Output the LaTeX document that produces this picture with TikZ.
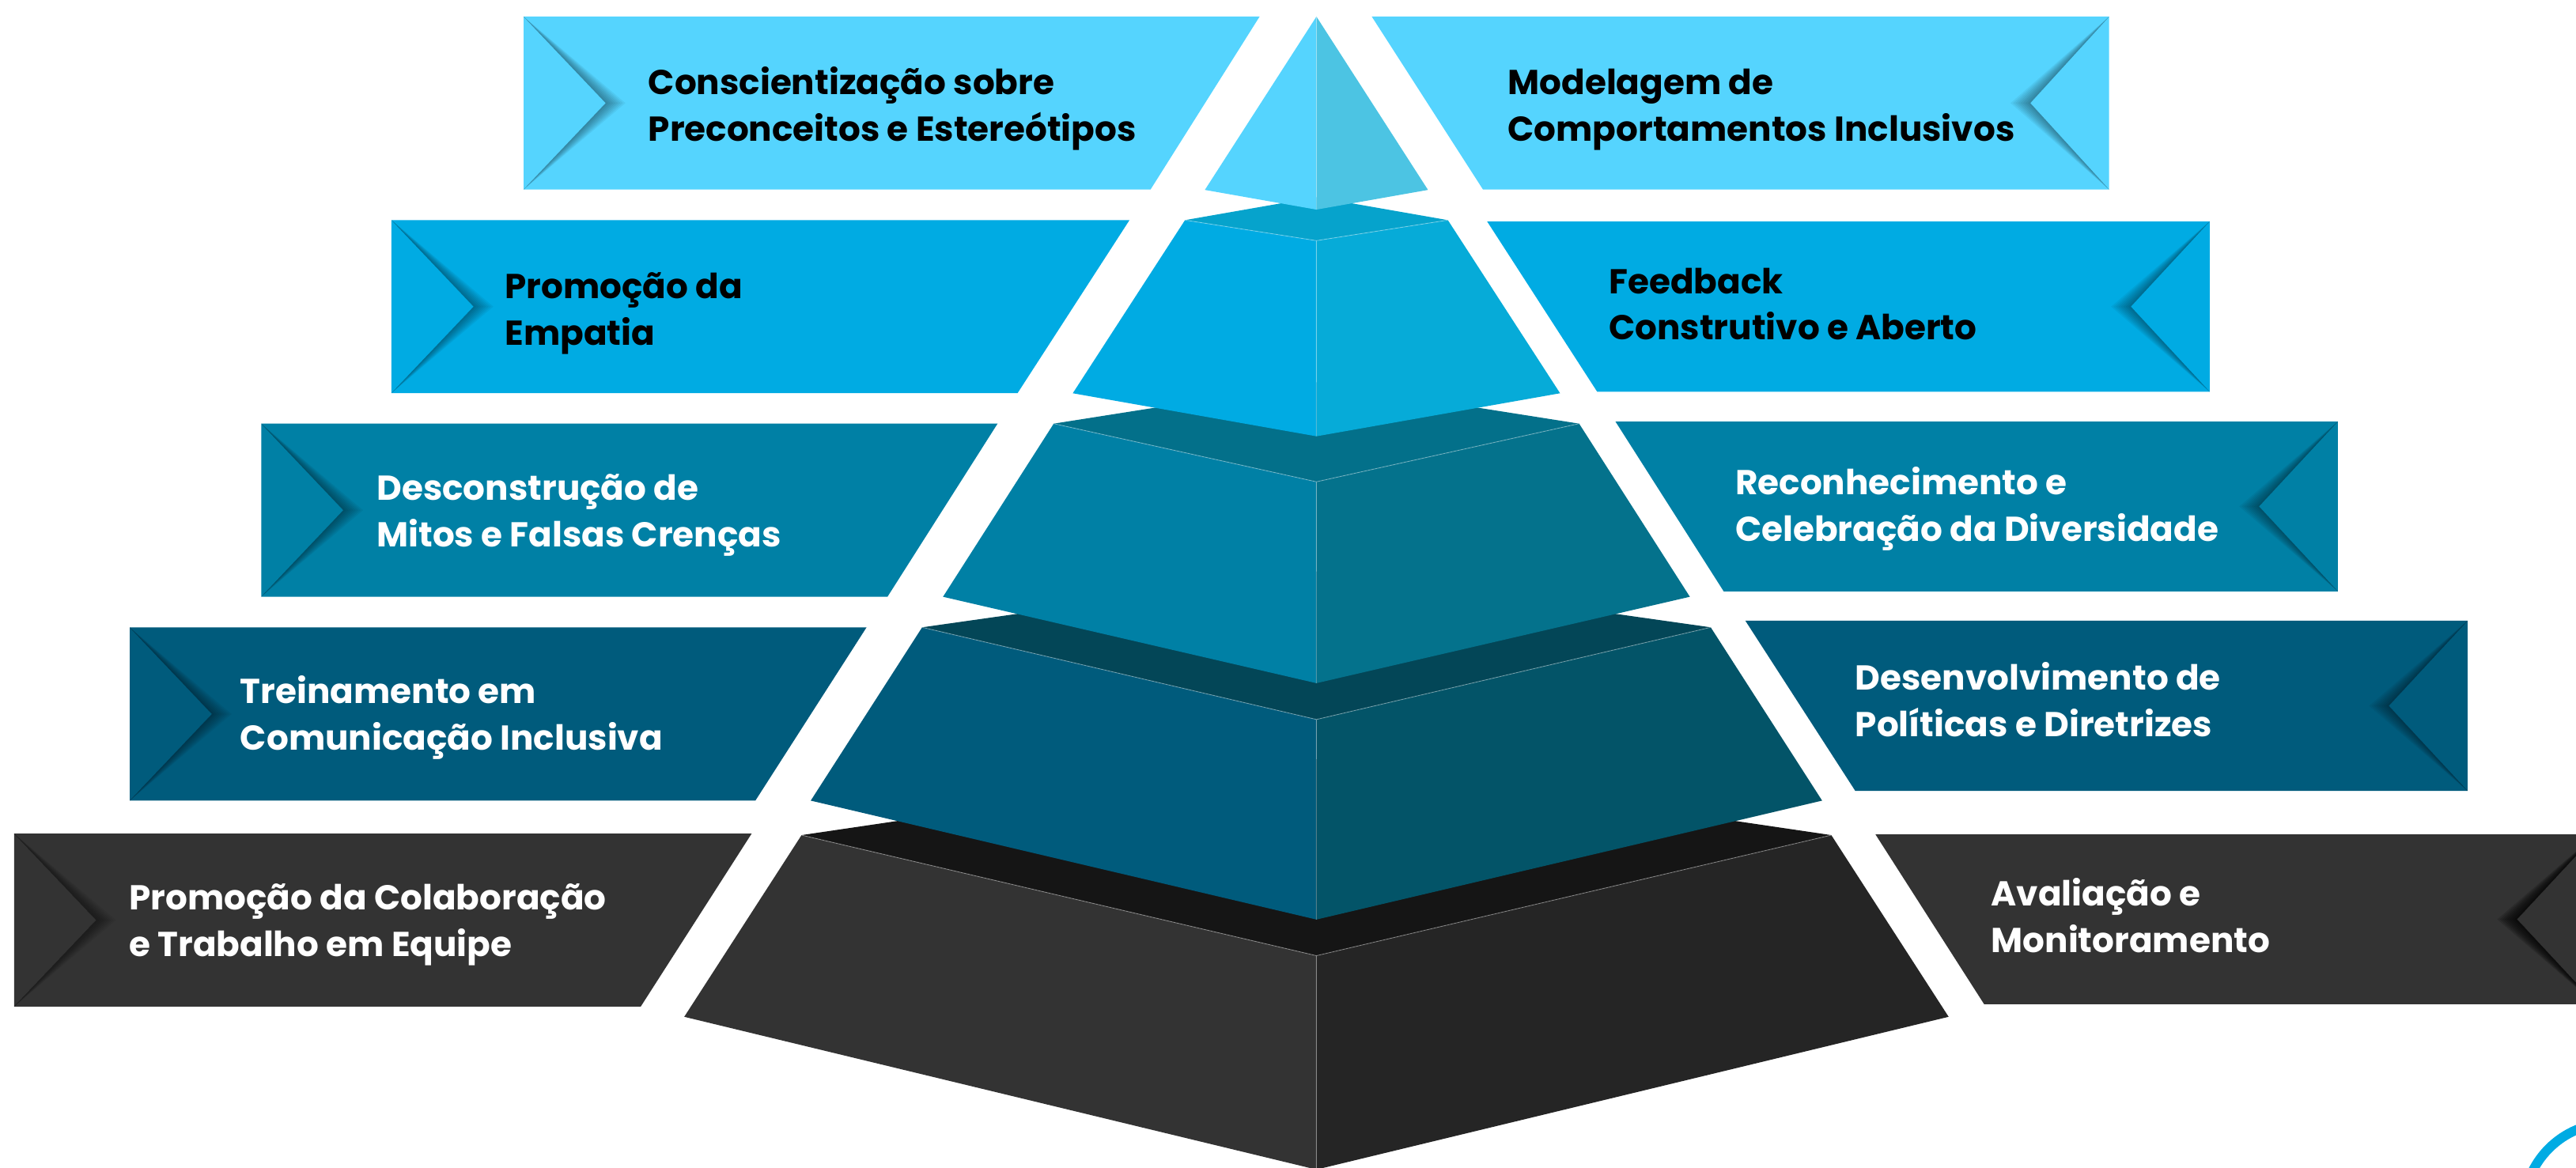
\documentclass[tikz,border=0pt]{standalone}
\usepackage{fontspec}
\setmainfont{Poppins}

\definecolor{skyA}{HTML}{55D4FE}
\definecolor{skyAr}{HTML}{4CC4E3}
\definecolor{blueB}{HTML}{00ABE3}
\definecolor{blueBt}{HTML}{06A3CC}
\definecolor{blueBr}{HTML}{06ABD8}
\definecolor{tealC}{HTML}{0080A5}
\definecolor{tealCt}{HTML}{03708A}
\definecolor{tealCr}{HTML}{04728C}
\definecolor{navyD}{HTML}{005B7C}
\definecolor{navyDt}{HTML}{034657}
\definecolor{navyDr}{HTML}{035468}
\definecolor{greyE}{HTML}{333333}
\definecolor{greyEt}{HTML}{151515}
\definecolor{greyEr}{HTML}{252525}

% fold shadow of a ribbon end: x, top, bottom, opacity
\newcommand{\foldL}[4]{\foreach \s in {1,...,8}
  \fill[black,opacity=#4] (#1,#2) -- ({#1+50},{(#2+#3)/2}) -- (#1,#3) -- ({#1+50+1.5*\s},{(#2+#3)/2}) -- cycle;}
\newcommand{\foldR}[4]{\foreach \s in {1,...,8}
  \fill[black,opacity=#4] (#1,#2) -- ({#1-48},{(#2+#3)/2}) -- (#1,#3) -- ({#1-48-1.5*\s},{(#2+#3)/2}) -- cycle;}

\begin{document}
\begin{tikzpicture}[x=0.0208cm, y=-0.0208cm,
  rowtext/.style={anchor=base west, align=left, inner sep=0pt,
    font={\fontsize{12.45}{16.8}\selectfont\bfseries}},
  frontedge/.style={draw=white, draw opacity=0.3, line width=0.3pt}]
\useasboundingbox (0,0) rectangle (1568,710.6);
\clip (0,0) rectangle (1568,710.6);

% ribbons, left
\fill[skyA] (318.7,10.1) -- (766.7,10.1) -- (700.3,115.4) -- (318.7,115.4) -- cycle;
\fill[blueB] (238.3,134) -- (687.5,134) -- (619.4,239.3) -- (238.3,239.3) -- cycle;
\fill[tealC] (159,257.9) -- (607.2,257.9) -- (540.2,363.3) -- (159,363.3) -- cycle;
\fill[navyD] (79,382) -- (527.4,382) -- (459.8,487.4) -- (79,487.4) -- cycle;
\fill[greyE] (8.6,507.5) -- (457.5,507.5) -- (390,612.8) -- (8.6,612.8) -- cycle;
\foldL{318.7}{10.1}{115.4}{0.05}
\foldL{238.3}{134}{239.3}{0.05}
\foldL{159}{257.9}{363.3}{0.05}
\foldL{79}{382}{487.4}{0.05}
\foldL{8.6}{507.5}{612.8}{0.06}

% ribbons, right
\fill[skyA] (835,10.1) -- (1283.8,10.1) -- (1283.8,115.4) -- (902.7,115.4) -- cycle;
\fill[blueB] (905.2,134.8) -- (1345,134.8) -- (1345,238.5) -- (972.2,238.5) -- cycle;
\fill[tealC] (983.3,256.6) -- (1423,256.6) -- (1423,360) -- (1049.2,360) -- cycle;
\fill[navyD] (1062.4,377.9) -- (1502,377.9) -- (1502,481.5) -- (1129.3,481.5) -- cycle;
\fill[greyE] (1141.6,508) -- (1580,508) -- (1580,611.3) -- (1207.7,611.3) -- cycle;
\foldR{1283.8}{10.1}{115.4}{0.05}
\foldR{1345}{134.8}{238.5}{0.05}
\foldR{1423}{256.6}{360}{0.05}
\foldR{1502}{377.9}{481.5}{0.05}
\foldR{1580}{508}{611.3}{0.14}

% pyramid, from the base up
\fill[greyEt] (487.9,508.4) -- (801.3,462.2) -- (1114.7,508.4) -- (801.3,581.8) -- cycle;
\fill[greyE] (487.9,508.4) -- (801.3,581.8) -- (801.3,712) -- (416.5,619) -- cycle;
\fill[greyEr] (1114.7,508.4) -- (801.3,581.8) -- (801.3,712) -- (1186.1,619) -- cycle;
\draw[frontedge] (487.9,508.4) -- (801.3,581.8) -- (1114.7,508.4) (801.3,581.8) -- (801.3,712);

\fill[navyDt] (561.3,381.9) -- (801.3,347.9) -- (1041.3,381.9) -- (801.3,438) -- cycle;
\fill[navyD] (561.3,381.9) -- (801.3,438) -- (801.3,559.8) -- (493.5,487.4) -- cycle;
\fill[navyDr] (1041.3,381.9) -- (801.3,438) -- (801.3,559.8) -- (1109.1,487.4) -- cycle;
\draw[frontedge] (561.3,381.9) -- (801.3,438) -- (1041.3,381.9) (801.3,438) -- (801.3,559.8);

\fill[tealCt] (641.4,257.9) -- (801.3,232.7) -- (961.2,257.9) -- (801.3,293.3) -- cycle;
\fill[tealC] (641.4,257.9) -- (801.3,293.3) -- (801.3,415.9) -- (574,363.3) -- cycle;
\fill[tealCr] (961.2,257.9) -- (801.3,293.3) -- (801.3,415.9) -- (1028.6,363.3) -- cycle;
\draw[frontedge] (641.4,257.9) -- (801.3,293.3) -- (961.2,257.9) (801.3,293.3) -- (801.3,415.9);

\fill[blueBt] (721.3,134) -- (801.3,120) -- (881.3,134) -- (801.3,146.5) -- cycle;
\fill[blueB] (721.3,134) -- (801.3,146.5) -- (801.3,265.6) -- (653,239.4) -- cycle;
\fill[blueBr] (881.3,134) -- (801.3,146.5) -- (801.3,265.6) -- (949.6,239.4) -- cycle;
\draw[frontedge] (721.3,134) -- (801.3,146.5) -- (881.3,134) (801.3,146.5) -- (801.3,265.6);

\fill[skyA] (801.3,10.1) -- (801.3,127.6) -- (733.4,115.6) -- cycle;
\fill[skyAr] (801.3,10.1) -- (801.3,127.6) -- (869.2,115.6) -- cycle;
\draw[frontedge] (801.3,10.1) -- (801.3,127.6);

% corner ring
\draw[blueB, line width=0.12cm] (1589,736.6) circle (53);

% labels (placed at the baseline of their second line)
\node[rowtext] (t1l) at (394.3,85.9) {Conscientização sobre\\Preconceitos e Estereótipos};
\node[rowtext] (t1r) at (917.5,85.9) {Modelagem de\\Comportamentos Inclusivos};
\node[rowtext] (t2l) at (307.1,210.3) {Promoção da\\Empatia};
\node[rowtext] (t2r) at (979,207) {Feedback\\Construtivo e Aberto};
\node[rowtext, white] (t3l) at (229,333) {Desconstrução de\\Mitos e Falsas Crenças};
\node[rowtext, white] (t3r) at (1056,329.5) {Reconhecimento e\\Celebração da Diversidade};
\node[rowtext, white] (t4l) at (146,456.5) {Treinamento em\\Comunicação Inclusiva};
\node[rowtext, white] (t4r) at (1129,448.5) {Desenvolvimento de\\Políticas e Diretrizes};
\node[rowtext, white] (t5l) at (78.3,582.2) {Promoção da Colaboração\\e Trabalho em Equipe};
\node[rowtext, white] (t5r) at (1211.7,579.8) {Avaliação e\\Monitoramento};
\end{tikzpicture}
\end{document}
